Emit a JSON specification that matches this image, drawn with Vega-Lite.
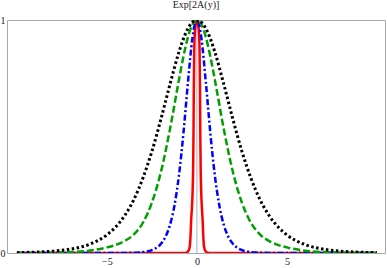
{
"$schema": "https://vega.github.io/schema/vega-lite/v6.json",
"width": 378, "height": 233,
"autosize": {"type": "none"},
"padding": {"left": 7, "top": 20, "right": 2, "bottom": 15},
"background": "white",
"config": {"view": {"stroke": "#a8a8a8", "strokeWidth": 1}, "font": "Liberation Serif"},
"title": {"text": "Exp[2A(y)]", "fontSize": 10, "font": "Liberation Serif", "fontWeight": "normal", "color": "#222222", "offset": 5},
"data": {"values": [
{"s":"b","x":-10,"y":0.0016},{"s":"b","x":-9,"y":0.0036},{"s":"b","x":-8,"y":0.0078},{"s":"b","x":-7,"y":0.0169},{"s":"b","x":-6,"y":0.0364},{"s":"b","x":-5,"y":0.0778},{"s":"b","x":-4.5,"y":0.1128},{"s":"b","x":-4,"y":0.162},{"s":"b","x":-3.5,"y":0.2299},{"s":"b","x":-3,"y":0.3214},{"s":"b","x":-2.5,"y":0.4364},{"s":"b","x":-2,"y":0.574},{"s":"b","x":-1.5,"y":0.7226},{"s":"b","x":-1,"y":0.862},{"s":"b","x":-0.75,"y":0.919},{"s":"b","x":-0.5,"y":0.963},{"s":"b","x":-0.25,"y":0.9905},{"s":"b","x":0,"y":1},
{"s":"b","x":0.25,"y":0.9905},{"s":"b","x":0.5,"y":0.963},{"s":"b","x":0.75,"y":0.919},{"s":"b","x":1,"y":0.862},{"s":"b","x":1.5,"y":0.7226},{"s":"b","x":2,"y":0.574},{"s":"b","x":2.5,"y":0.4364},{"s":"b","x":3,"y":0.3214},{"s":"b","x":3.5,"y":0.2299},{"s":"b","x":4,"y":0.162},{"s":"b","x":4.5,"y":0.1128},{"s":"b","x":5,"y":0.0778},{"s":"b","x":6,"y":0.0364},{"s":"b","x":7,"y":0.0169},{"s":"b","x":8,"y":0.0078},{"s":"b","x":9,"y":0.0036},{"s":"b","x":10,"y":0.0016},
{"s":"g","x":-10,"y":0.0002},{"s":"g","x":-9,"y":0.0006},{"s":"g","x":-8,"y":0.0015},{"s":"g","x":-7,"y":0.004},{"s":"g","x":-6,"y":0.01},{"s":"g","x":-5,"y":0.024},{"s":"g","x":-4.5,"y":0.035},{"s":"g","x":-4,"y":0.052},{"s":"g","x":-3.5,"y":0.08},{"s":"g","x":-3,"y":0.1298},{"s":"g","x":-2.5,"y":0.2162},{"s":"g","x":-2,"y":0.3475},{"s":"g","x":-1.5,"y":0.5295},{"s":"g","x":-1,"y":0.742},{"s":"g","x":-0.75,"y":0.8425},{"s":"g","x":-0.5,"y":0.9254},{"s":"g","x":-0.25,"y":0.9807},{"s":"g","x":0,"y":1},
{"s":"g","x":0.25,"y":0.9807},{"s":"g","x":0.5,"y":0.9254},{"s":"g","x":0.75,"y":0.8425},{"s":"g","x":1,"y":0.742},{"s":"g","x":1.5,"y":0.5295},{"s":"g","x":2,"y":0.3475},{"s":"g","x":2.5,"y":0.2162},{"s":"g","x":3,"y":0.1298},{"s":"g","x":3.5,"y":0.08},{"s":"g","x":4,"y":0.052},{"s":"g","x":4.5,"y":0.035},{"s":"g","x":5,"y":0.024},{"s":"g","x":6,"y":0.01},{"s":"g","x":7,"y":0.004},{"s":"g","x":8,"y":0.0015},{"s":"g","x":9,"y":0.0006},{"s":"g","x":10,"y":0.0002},
{"s":"u","x":-10,"y":0},{"s":"u","x":-8,"y":0},{"s":"u","x":-6,"y":0},{"s":"u","x":-5,"y":0.00005},{"s":"u","x":-4,"y":0.0004},{"s":"u","x":-3.5,"y":0.0013},{"s":"u","x":-3,"y":0.004},{"s":"u","x":-2.5,"y":0.0127},{"s":"u","x":-2,"y":0.0394},{"s":"u","x":-1.75,"y":0.069},{"s":"u","x":-1.5,"y":0.1193},{"s":"u","x":-1.25,"y":0.2022},{"s":"u","x":-1,"y":0.3313},{"s":"u","x":-0.75,"y":0.5125},{"s":"u","x":-0.5,"y":0.7299},{"s":"u","x":-0.25,"y":0.9216},{"s":"u","x":-0.125,"y":0.9795},{"s":"u","x":0,"y":1},
{"s":"u","x":0.125,"y":0.9795},{"s":"u","x":0.25,"y":0.9216},{"s":"u","x":0.5,"y":0.7299},{"s":"u","x":0.75,"y":0.5125},{"s":"u","x":1,"y":0.3313},{"s":"u","x":1.25,"y":0.2022},{"s":"u","x":1.5,"y":0.1193},{"s":"u","x":1.75,"y":0.069},{"s":"u","x":2,"y":0.0394},{"s":"u","x":2.5,"y":0.0127},{"s":"u","x":3,"y":0.004},{"s":"u","x":3.5,"y":0.0013},{"s":"u","x":4,"y":0.0004},{"s":"u","x":5,"y":0.00005},{"s":"u","x":6,"y":0},{"s":"u","x":8,"y":0},{"s":"u","x":10,"y":0},
{"s":"r","x":-10,"y":0},{"s":"r","x":-6,"y":0},{"s":"r","x":-3,"y":0},{"s":"r","x":-1,"y":0},{"s":"r","x":-0.8,"y":0.0002},{"s":"r","x":-0.6,"y":0.0015},{"s":"r","x":-0.5,"y":0.006},{"s":"r","x":-0.42,"y":0.018},{"s":"r","x":-0.38,"y":0.04},{"s":"r","x":-0.35,"y":0.08},{"s":"r","x":-0.32,"y":0.14},{"s":"r","x":-0.28,"y":0.19},{"s":"r","x":-0.24,"y":0.26},{"s":"r","x":-0.21,"y":0.36},{"s":"r","x":-0.19,"y":0.5},{"s":"r","x":-0.17,"y":0.72},{"s":"r","x":-0.15,"y":0.86},{"s":"r","x":-0.13,"y":0.92},{"s":"r","x":-0.1,"y":0.96},{"s":"r","x":-0.05,"y":0.99},{"s":"r","x":0,"y":1},
{"s":"r","x":0.05,"y":0.99},{"s":"r","x":0.1,"y":0.96},{"s":"r","x":0.13,"y":0.92},{"s":"r","x":0.15,"y":0.86},{"s":"r","x":0.17,"y":0.72},{"s":"r","x":0.19,"y":0.5},{"s":"r","x":0.21,"y":0.36},{"s":"r","x":0.24,"y":0.26},{"s":"r","x":0.28,"y":0.19},{"s":"r","x":0.32,"y":0.14},{"s":"r","x":0.35,"y":0.08},{"s":"r","x":0.38,"y":0.04},{"s":"r","x":0.42,"y":0.018},{"s":"r","x":0.5,"y":0.006},{"s":"r","x":0.6,"y":0.0015},{"s":"r","x":0.8,"y":0.0002},{"s":"r","x":1,"y":0},{"s":"r","x":3,"y":0},{"s":"r","x":6,"y":0},{"s":"r","x":10,"y":0}
]},
"encoding": {
  "x": {"field": "x", "type": "quantitative", "scale": {"domain": [-10.55, 10.45], "nice": false, "zero": false},
        "axis": {"values": [-5, 0, 5], "domain": false, "ticks": false, "grid": false, "labelFont": "Liberation Serif", "labelFontSize": 10, "labelColor": "#222222", "labelPadding": 3, "title": null, "labelFlush": false}},
  "y": {"field": "y", "type": "quantitative", "scale": {"domain": [0, 1], "nice": false, "zero": false},
        "axis": {"values": [0, 1], "format": "d", "domain": false, "ticks": false, "grid": false, "labelFont": "Liberation Serif", "labelFontSize": 10, "labelColor": "#222222", "labelPadding": 2, "title": null, "labelFlush": false}}
},
"layer": [
  {"data": {"values": [{"x": 0, "y": 0, "y2": 1}]}, "mark": {"type": "rule", "color": "#b0b0b0", "strokeWidth": 1}, "encoding": {"y2": {"field": "y2"}}},
  {"transform": [{"filter": "datum.s === 'r'"}], "mark": {"type": "line", "color": "#ff0000", "strokeWidth": 2.5, "interpolate": "monotone", "clip": true}},
  {"transform": [{"filter": "datum.s === 'u'"}], "mark": {"type": "line", "color": "#0000ff", "strokeWidth": 2.5, "strokeDash": [6, 2.5, 2, 2.5], "interpolate": "monotone", "clip": true}},
  {"transform": [{"filter": "datum.s === 'g'"}], "mark": {"type": "line", "color": "#00a000", "strokeWidth": 2.5, "strokeDash": [7, 3], "interpolate": "monotone", "clip": true}},
  {"transform": [{"filter": "datum.s === 'b'"}], "mark": {"type": "line", "color": "#000000", "strokeWidth": 3, "strokeDash": [2.5, 2.5], "interpolate": "monotone", "clip": true}}
]
}
